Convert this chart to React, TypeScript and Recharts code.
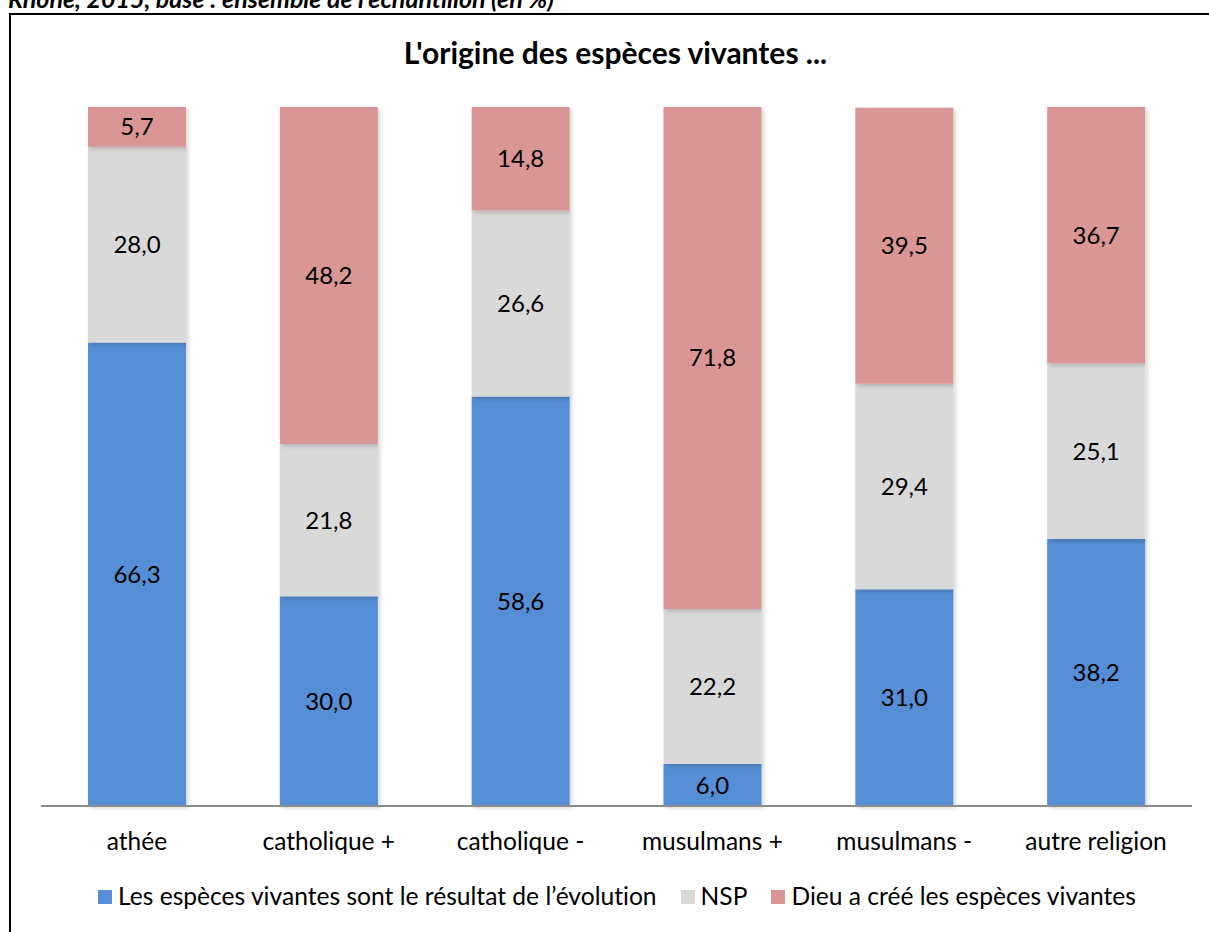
import React from "react";
import { BarChart, Bar, XAxis, YAxis, LabelList } from "recharts";

const categories = ["athée", "catholique +", "catholique -", "musulmans +", "musulmans -", "autre religion"];
const evolution = [66.3, 30.0, 58.6, 6.0, 31.0, 38.2];
const nsp = [28.0, 21.8, 26.6, 22.2, 29.4, 25.1];
const dieu = [5.7, 48.2, 14.8, 71.8, 39.5, 36.7];

const seriesNames = [
  "Les espèces vivantes sont le résultat de l\u2019évolution",
  "NSP",
  "Dieu a créé les espèces vivantes",
];
const seriesKeys = ["evolution", "nsp", "dieu"];
const seriesColors = ["#558ED5", "#D9D9D9", "#D99694"];

const data = categories.map((c, i) => ({
  name: c,
  evolution: evolution[i],
  nsp: nsp[i],
  dieu: dieu[i],
}));

const FONT = "Lato, 'Open Sans', sans-serif";
const fmt = (v: any) => Number(v).toFixed(1).replace(".", ",");

export default function App() {
  return (
    <div
      style={{
        position: "fixed",
        left: 0,
        top: 0,
        width: 1209,
        height: 932,
        overflow: "hidden",
        background: "#fff",
        fontFamily: FONT,
        fontVariantLigatures: "none",
      }}
    >
      <div
        style={{
          position: "absolute",
          left: 8,
          top: -14,
          fontSize: 25,
          lineHeight: "25px",
          fontWeight: 700,
          fontStyle: "italic",
          whiteSpace: "nowrap",
          color: "#000",
        }}
      >
        Rhône, 2015, base : ensemble de l’échantillon (en %)
      </div>
      <div
        style={{
          position: "absolute",
          left: 9,
          top: 13,
          width: 1300,
          height: 1000,
          border: "2px solid #000",
          boxSizing: "border-box",
        }}
      />
      <div
        style={{
          position: "absolute",
          left: 0,
          width: 1231,
          top: 37,
          textAlign: "center",
          fontSize: 30,
          lineHeight: "30px",
          fontWeight: 700,
          color: "#000",
          whiteSpace: "nowrap",
        }}
      >
        L'origine des espèces vivantes ...
      </div>
      <div style={{ position: "absolute", left: 0, top: 0 }}>
        <svg width={0} height={0} style={{ position: "absolute" }}>
          <defs>
            <filter id="barShadow" x="-10%" y="-10%" width="130%" height="130%">
              <feDropShadow dx="2" dy="2" stdDeviation="2" floodColor="#000" floodOpacity="0.18" />
            </filter>
          </defs>
        </svg>
        <BarChart
          width={1209}
          height={932}
          data={data}
          margin={{ top: 107, right: 17, left: 41, bottom: 66 }}
          barCategoryGap="24.5%"
        >
          <YAxis hide domain={[0, 100]} type="number" />
          <XAxis
            dataKey="name"
            height={60}
            tickLine={false}
            tickMargin={21}
            axisLine={{ stroke: "#8C8C8C", strokeWidth: 2 }}
            tick={{ fontSize: 24.5, fill: "#000", fontFamily: FONT }}
            interval={0}
          />
          {seriesKeys.map((k, i) => (
            <Bar
              key={k}
              dataKey={k}
              name={seriesNames[i]}
              stackId="a"
              fill={seriesColors[i]}
              isAnimationActive={false}
              style={{ filter: "url(#barShadow)" }}
            >
              <LabelList
                dataKey={k}
                position="center"
                formatter={fmt}
                style={{ fontSize: 24, fill: "#000", fontFamily: FONT }}
              />
            </Bar>
          ))}
        </BarChart>
      </div>
      <div
        style={{
          position: "absolute",
          left: 0,
          width: 1234,
          top: 883,
          display: "flex",
          justifyContent: "center",
          fontSize: 24.6,
          lineHeight: "25px",
          color: "#000",
          whiteSpace: "nowrap",
        }}
      >
        {seriesNames.map((n, i) => (
          <div key={n} style={{ display: "flex", alignItems: "center", marginRight: i < 2 ? 24 : 0 }}>
            <span
              style={{
                display: "inline-block",
                width: 14,
                height: 14,
                background: seriesColors[i],
                marginRight: 6,
                marginTop: 3,
              }}
            />
            <span>{n}</span>
          </div>
        ))}
      </div>
    </div>
  );
}
